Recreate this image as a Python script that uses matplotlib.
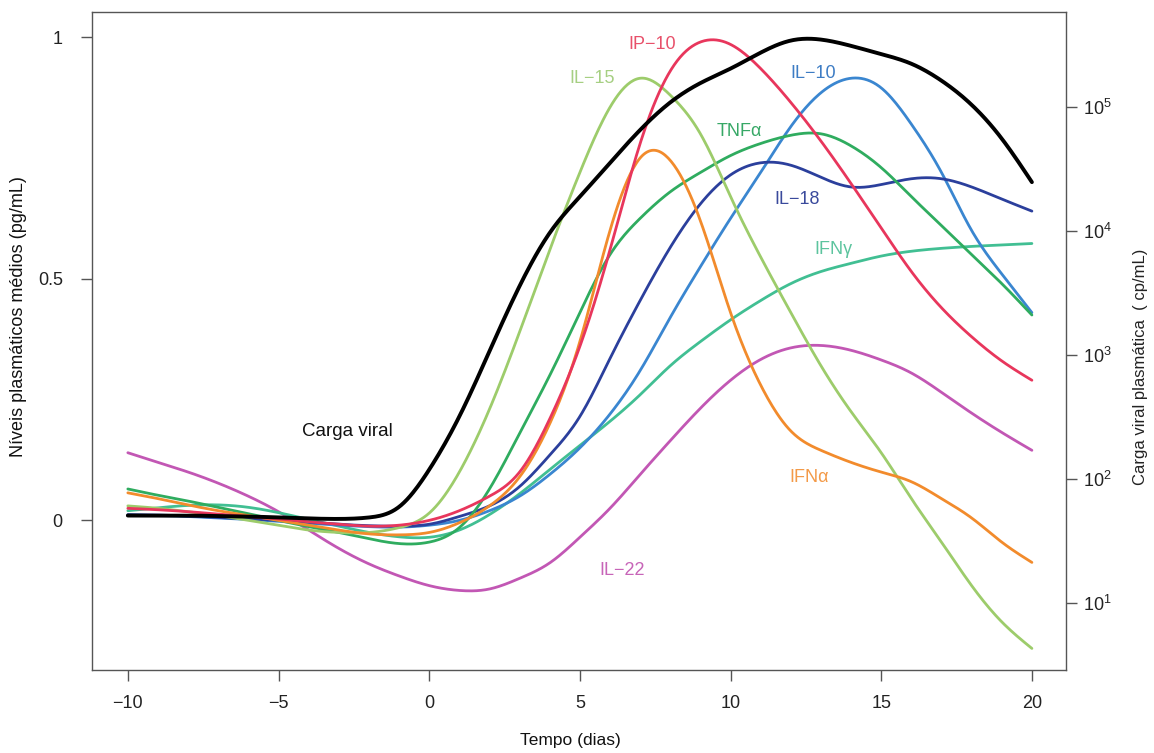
import numpy as np
import matplotlib
matplotlib.use("Agg")
import matplotlib.pyplot as plt

plt.rcParams['font.family'] = ['Liberation Sans', 'DejaVu Sans']
plt.rcParams['mathtext.fontset'] = 'custom'
plt.rcParams['mathtext.rm'] = 'Liberation Sans'
plt.rcParams['mathtext.it'] = 'Liberation Sans:italic'

# ---------------- data ----------------
days = list(range(-10, 21))

carga_viral = [0.010, 0.010, 0.010, 0.009, 0.008, 0.006, 0.004, 0.003, 0.006, 0.028,
               0.105, 0.215, 0.350, 0.485, 0.595, 0.670, 0.740, 0.808, 0.865, 0.905,
               0.935, 0.968, 0.993, 0.995, 0.982, 0.965, 0.945, 0.910, 0.860, 0.790, 0.700]
ip10 = [0.025, 0.022, 0.018, 0.013, 0.008, 0.003, -0.003, -0.008, -0.012, -0.010,
        0.000, 0.020, 0.050, 0.100, 0.210, 0.360, 0.560, 0.780, 0.930, 0.990,
        0.985, 0.935, 0.865, 0.785, 0.697, 0.605, 0.515, 0.440, 0.380, 0.330, 0.290]
il15 = [0.030, 0.025, 0.018, 0.010, 0.000, -0.010, -0.020, -0.025, -0.025, -0.015,
        0.015, 0.100, 0.230, 0.390, 0.560, 0.720, 0.855, 0.915, 0.880, 0.800,
        0.670, 0.545, 0.430, 0.320, 0.225, 0.140, 0.045, -0.045, -0.135, -0.210, -0.265]
ifna = [0.057, 0.045, 0.032, 0.020, 0.010, 0.000, -0.010, -0.020, -0.028, -0.030,
        -0.025, -0.005, 0.030, 0.090, 0.200, 0.370, 0.600, 0.750, 0.745, 0.620,
        0.430, 0.280, 0.185, 0.145, 0.120, 0.100, 0.080, 0.045, 0.005, -0.045, -0.087]
tnfa = [0.065, 0.052, 0.040, 0.027, 0.014, 0.000, -0.013, -0.025, -0.038, -0.048,
        -0.045, -0.015, 0.065, 0.180, 0.300, 0.430, 0.550, 0.625, 0.680, 0.720,
        0.755, 0.780, 0.797, 0.800, 0.775, 0.730, 0.670, 0.610, 0.550, 0.490, 0.425]
il10 = [0.010, 0.010, 0.008, 0.005, 0.002, -0.002, -0.006, -0.010, -0.013, -0.014,
        -0.010, 0.000, 0.020, 0.050, 0.095, 0.150, 0.220, 0.310, 0.420, 0.525,
        0.625, 0.720, 0.815, 0.885, 0.915, 0.895, 0.820, 0.720, 0.600, 0.510, 0.430]
il18 = [0.012, 0.011, 0.009, 0.006, 0.003, 0.000, -0.004, -0.008, -0.011, -0.012,
        -0.008, 0.008, 0.030, 0.070, 0.135, 0.215, 0.335, 0.455, 0.565, 0.655,
        0.715, 0.740, 0.735, 0.710, 0.690, 0.695, 0.707, 0.707, 0.690, 0.665, 0.640]
ifng = [0.020, 0.026, 0.031, 0.032, 0.027, 0.016, 0.002, -0.012, -0.025, -0.034,
        -0.035, -0.020, 0.012, 0.055, 0.105, 0.155, 0.205, 0.260, 0.320, 0.370,
        0.415, 0.455, 0.490, 0.515, 0.532, 0.547, 0.557, 0.563, 0.567, 0.570, 0.573]
il22 = [0.140, 0.120, 0.100, 0.077, 0.050, 0.018, -0.020, -0.058, -0.090, -0.115,
        -0.135, -0.145, -0.142, -0.120, -0.088, -0.035, 0.025, 0.095, 0.165, 0.232,
        0.290, 0.333, 0.357, 0.362, 0.352, 0.332, 0.305, 0.265, 0.222, 0.182, 0.145]

x_ticks = [-10, -5, 0, 5, 10, 15, 20]
y_ticks = [0, 0.5, 1]
y_tick_labels = ['0', '0.5', '1']
right_ticks = [1e1, 1e2, 1e3, 1e4, 1e5]
right_tick_labels = [r'$\mathregular{10^{1}}$', r'$\mathregular{10^{2}}$', r'$\mathregular{10^{3}}$',
                     r'$\mathregular{10^{4}}$', r'$\mathregular{10^{5}}$']


def smooth(x, y, n=600):
    """Natural cubic spline through the read points (for drawing a smooth line)."""
    x = np.asarray(x, float)
    y = np.asarray(y, float)
    m = len(x)
    h = np.diff(x)
    A = np.zeros((m, m))
    b = np.zeros(m)
    A[0, 0] = 1
    A[-1, -1] = 1
    for i in range(1, m - 1):
        A[i, i - 1] = h[i - 1]
        A[i, i] = 2 * (h[i - 1] + h[i])
        A[i, i + 1] = h[i]
        b[i] = 6 * ((y[i + 1] - y[i]) / h[i] - (y[i] - y[i - 1]) / h[i - 1])
    M = np.linalg.solve(A, b)
    xs = np.linspace(x[0], x[-1], n)
    idx = np.clip(np.searchsorted(x, xs) - 1, 0, m - 2)
    x0, x1 = x[idx], x[idx + 1]
    hh = x1 - x0
    ys = (M[idx] * (x1 - xs) ** 3 / (6 * hh) + M[idx + 1] * (xs - x0) ** 3 / (6 * hh)
          + (y[idx] / hh - M[idx] * hh / 6) * (x1 - xs)
          + (y[idx + 1] / hh - M[idx + 1] * hh / 6) * (xs - x0))
    return xs, ys


series = [
    (il22, '#c257b4'),
    (ifng, '#41bf93'),
    (il10, '#3a86d0'),
    (il18, '#2b3f9c'),
    (tnfa, '#2fac5f'),
    (il15, '#9dcc6b'),
    (ifna, '#f28b2c'),
    (ip10, '#e8365c'),
]

fig = plt.figure(figsize=(11.54, 7.53), dpi=100)
ax = fig.add_axes([0.0797, 0.110, 0.9237 - 0.0797, 0.984 - 0.110])

for vals, col in series:
    xs, ys = smooth(days, vals)
    ax.plot(xs, ys, color=col, lw=2.0, solid_capstyle='round', zorder=2)

xs, ys = smooth(days, carga_viral)
ax.plot(xs, ys, color='black', lw=2.8, solid_capstyle='round', zorder=3)

ax.set_xlim(-11.19, 21.13)
ax.set_ylim(-0.31, 1.052)
ax.set_xticks(x_ticks)
ax.set_yticks(y_ticks)
ax.set_yticklabels(y_tick_labels)

for sp in ax.spines.values():
    sp.set_color('#555555')
    sp.set_linewidth(1.0)
ax.tick_params(axis='both', direction='out', length=8, width=1.0, color='#555555',
               labelsize=13, labelcolor='#222222')
ax.tick_params(axis='x', pad=10)
ax.tick_params(axis='y', pad=13)

ax2 = ax.twinx()
ax2.set_yscale('log')
ax2.set_ylim(10 ** 0.46, 10 ** 5.766)
ax2.set_yticks(right_ticks)
ax2.set_yticklabels(right_tick_labels)
ax2.minorticks_off()
ax2.tick_params(axis='y', direction='out', length=8, width=1.0, color='#555555',
                labelsize=13, labelcolor='#222222', pad=4)
for sp in ax2.spines.values():
    sp.set_visible(False)

# curve labels
labels = [
    ('IP\u221210', 7.4, 0.985, '#e8506a'),
    ('IL\u221215', 5.4, 0.915, '#a6cf82'),
    ('IL\u221210', 12.73, 0.925, '#3d7cc4'),
    ('TNF\u03b1', 10.3, 0.805, '#37a866'),
    ('IL\u221218', 12.2, 0.665, '#3a4a9c'),
    ('IFN\u03b3', 13.4, 0.56, '#5cc49e'),
    ('Carga viral', -2.7, 0.183, '#111111'),
    ('IFN\u03b1', 12.6, 0.088, '#f39a48'),
    ('IL\u221222', 6.4, -0.103, '#c764b8'),
]
for txt, lx, ly, col in labels:
    ax.text(lx, ly, txt, color=col, fontsize=13 if txt != 'Carga viral' else 13.5,
            ha='center', va='center', zorder=4)

fig.text(0.494, 0.006, 'Tempo (dias)', ha='center', va='bottom', fontsize=12.5, color='#111111')
fig.text(0.016, 0.58, 'N\u00edveis plasm\u00e1ticos m\u00e9dios (pg/mL)', rotation=90,
         ha='center', va='center', fontsize=13, color='#111111')
fig.text(0.988, 0.513, 'Carga viral plasm\u00e1tica  ( cp/mL)', rotation=90,
         ha='center', va='center', fontsize=12, color='#222222')

fig.savefig('out.png', dpi=100)
